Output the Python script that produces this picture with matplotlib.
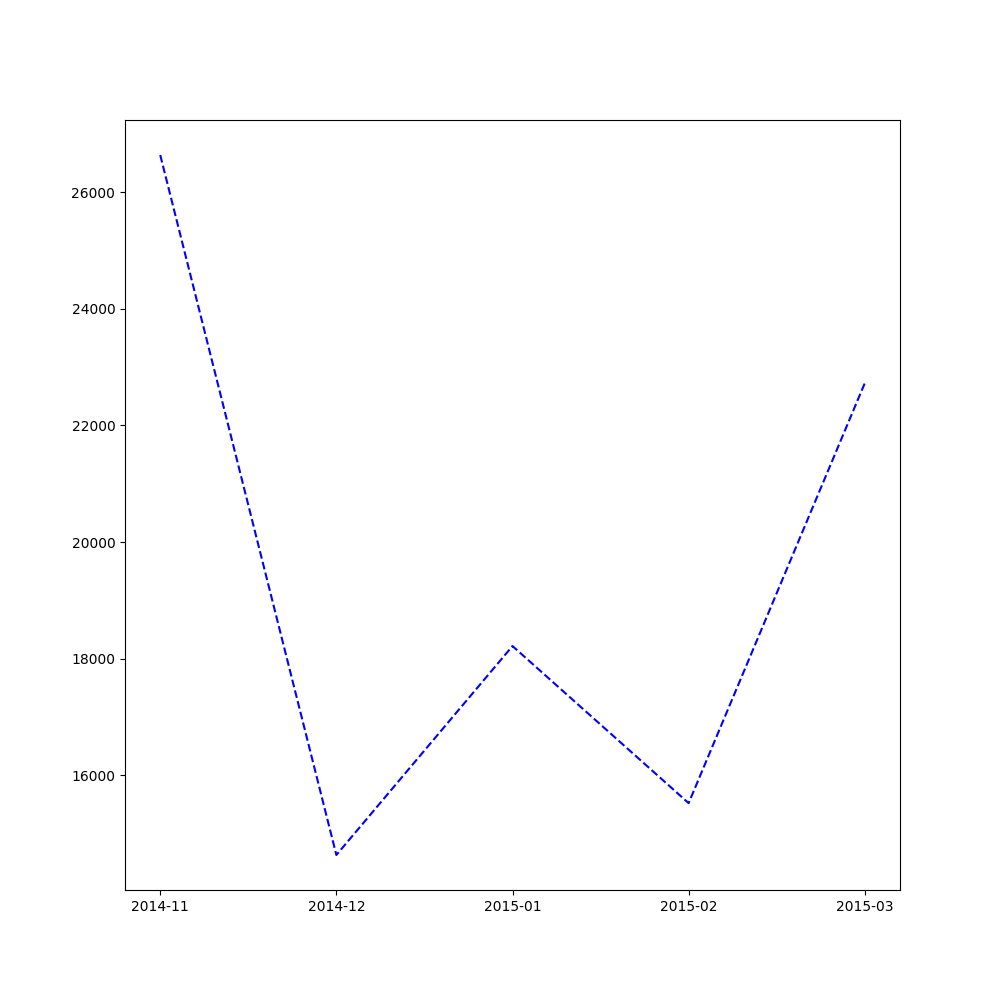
import matplotlib
matplotlib.use('Agg')
import matplotlib.pyplot as plt

# Dados mensais
meses = ['2014-11', '2014-12', '2015-01', '2015-02', '2015-03']
valores = [26640, 14630, 18215, 15520, 22725]

# Plotar
plt.figure(figsize=(10, 10))
plt.plot(meses, valores, linestyle='--', color='blue')
plt.savefig('out.png', dpi=100)
